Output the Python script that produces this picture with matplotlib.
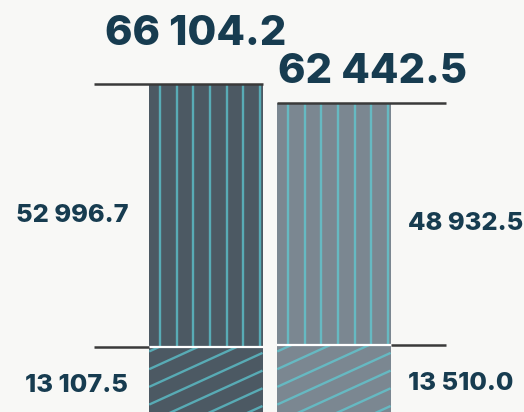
import numpy as np
import matplotlib
matplotlib.use("Agg")
import matplotlib.pyplot as plt
from matplotlib.collections import LineCollection
from matplotlib.transforms import IdentityTransform

# data
bars = ['A', 'B']
lower_vals = [13107.5, 13510.0]
upper_vals = [52996.7, 48932.5]
totals = [66104.2, 62442.5]
lower_labels = ['13 107.5', '13 510.0']
upper_labels = ['52 996.7', '48 932.5']
total_labels = ['66 104.2', '62 442.5']

bg = '#f8f8f6'
bar_colors = ['#4c5963', '#7b8791']
hatch_colors = ['#58abb5', '#66b9c2']
rule_color = '#3a3a3a'
text_color = '#173c50'
font = ['Inter', 'DejaVu Sans']

fig = plt.figure(figsize=(5.24, 4.12), dpi=100, facecolor=bg)
ax = fig.add_axes([0, 0, 1, 1])
ax.set_facecolor(bg)
ax.axis('off')

x = np.arange(len(bars))
width = 0.885
ax.set_xlim(-1.607, 2.484)
ax.set_ylim(0, 83150)

low = ax.bar(x, lower_vals, width, color=bar_colors, edgecolor='none')
up = ax.bar(x, upper_vals, width, bottom=lower_vals, color=bar_colors, edgecolor='none')


def hatch(patch, kind, color):
    x0, y0 = patch.get_xy()
    (px0, py0), (px1, py1) = ax.transData.transform(
        [(x0, y0), (x0 + patch.get_width(), y0 + patch.get_height())])
    if kind == 'v':
        segs = [[(v, py0), (v, py1)] for v in np.arange(px0 + 11, px1, 16.6)]
    else:
        slope = 0.456
        rise = slope * (px1 - px0)
        segs = [[(px0, s), (px1, s + rise)]
                for s in np.arange(py0 - rise + 6, py1, 17.7)]
    lc = LineCollection(segs, colors=color, linewidths=1.7,
                        transform=IdentityTransform())
    ax.add_collection(lc, autolim=False)
    lc.set_clip_path(patch)  # after add_collection, which resets the clip


for p, c in zip(up.patches, hatch_colors):
    hatch(p, 'v', c)
for p, c in zip(low.patches, hatch_colors):
    hatch(p, 'd', c)

ext = 55 / 128  # rule length beyond bar, in x units
total_dx = [-0.08, 0.3]
total_dy = [36, 22]
for i in range(len(bars)):
    left, right = x[i] - width / 2, x[i] + width / 2
    # white separator between segments
    ax.hlines(lower_vals[i], left, right, color='white', lw=1.6, zorder=3)
    if i == 0:
        ax.hlines(totals[i], left - ext, right, color=rule_color, lw=1.8, zorder=3)
        ax.hlines(lower_vals[i], left - ext, left, color=rule_color, lw=1.8, zorder=3)
        tx, ha = left - 21 / 128, 'right'
    else:
        ax.hlines(totals[i], left, right + ext, color=rule_color, lw=1.8, zorder=3)
        ax.hlines(lower_vals[i], right, right + ext, color=rule_color, lw=1.8, zorder=3)
        tx, ha = right + 17 / 128, 'left'

    ax.annotate(total_labels[i], (x[i] + total_dx[i], totals[i]),
                xytext=(0, total_dy[i]), textcoords='offset points', ha='center', va='center',
                fontsize=30, fontweight='heavy', color=text_color, family=font)
    ax.text(tx, lower_vals[i] + upper_vals[i] / 2, upper_labels[i], ha=ha, va='center',
            fontsize=18.3, fontweight='heavy', color=text_color, family=font)
    ax.annotate(lower_labels[i], (tx, lower_vals[i]), xytext=(0, -28),
                textcoords='offset points', ha=ha, va='center',
                fontsize=18.3, fontweight='heavy', color=text_color, family=font)

plt.savefig('out.png', dpi=100, facecolor=bg)
